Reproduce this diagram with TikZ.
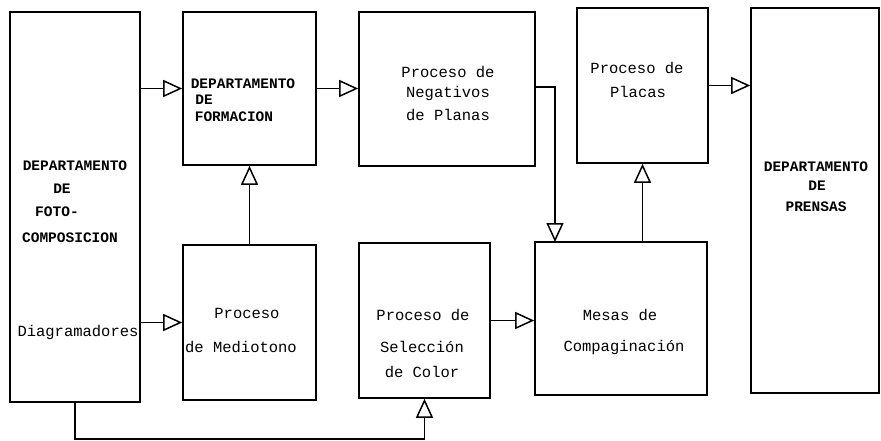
\documentclass[tikz,border=0pt]{standalone}
\usepackage{fontspec}
\setmonofont{Liberation Mono}
\usetikzlibrary{arrows.meta,calc}
\begin{document}
\begin{tikzpicture}[x=1pt,y=-1pt,
  box/.style={draw,line width=1.6pt,inner sep=0pt},
  arr/.style={line width=1.5pt,-{Triangle[open,length=19pt,width=17pt,line width=1.5pt]}},
  upper/.style={font=\ttfamily\bfseries\fontsize{14.5}{16}\selectfont,inner sep=0pt},
  txt/.style={font=\ttfamily\fontsize{15.5}{17}\selectfont,inner sep=0pt}]
\useasboundingbox (0,0) rectangle (881,440);

% blocks
\node[box,minimum width=130pt,minimum height=390pt] (A) at (75,207) {};
\node[box,minimum width=133pt,minimum height=153pt] (B) at (249.5,88.5) {};
\node[box,minimum width=176pt,minimum height=154pt] (C) at (447,89) {};
\node[box,minimum width=131pt,minimum height=155pt] (D) at (642.5,85.5) {};
\node[box,minimum width=128pt,minimum height=385pt] (E) at (815,200.5) {};
\node[box,minimum width=133pt,minimum height=155pt] (F) at (249.5,322.5) {};
\node[box,minimum width=131pt,minimum height=155pt] (G) at (424.5,320.5) {};
\node[box,minimum width=172pt,minimum height=153pt] (H) at (621,318.5) {};

% labels
\node[upper] (a1) at (75,166) {DEPARTAMENTO};
\node[upper] (a2) at (62,189) {DE};
\node[upper] (a3) at (57,212) {FOTO-};
\node[upper] (a4) at (70,238) {COMPOSICION};
\node[txt] (a5) at (78,332) {Diagramadores};

\node[upper] (b1) at (243,84) {DEPARTAMENTO};
\node[upper] (b2) at (204,100) {DE};
\node[upper] (b3) at (234,117) {FORMACION};

\node[txt] (c1) at (448,72) {Proceso de};
\node[txt] (c2) at (448,93) {Negativos};
\node[txt] (c3) at (448,115) {de Planas};

\node[txt] (d1) at (637,68) {Proceso de};
\node[txt] (d2) at (638,92) {Placas};

\node[upper] (e1) at (816,167) {DEPARTAMENTO};
\node[upper] (e2) at (817,186) {DE};
\node[upper] (e3) at (816,207) {PRENSAS};

\node[txt] (f1) at (247,313) {Proceso};
\node[txt] (f2) at (241,347) {de Mediotono};

\node[txt] (g1) at (423,315) {Proceso de};
\node[txt] (g2) at (422,347) {Selección};
\node[txt] (g3) at (422,372) {de Color};

\node[txt] (h1) at (620,315) {Mesas de};
\node[txt] (h2) at (624,347) {Compaginación};

% connectors
\coordinate (Hin) at (555,242);
\draw[arr] (A.east |- B.west) -- (B.west);
\draw[arr] (B.east) -- (C.west |- B.east);
\draw[arr] (D.east) -- (E.west |- D.east);
\draw[arr] (A.east |- F.west) -- (F.west);
\draw[arr] (F.north) -- (B.south);
\draw[arr] (G.east) -- (H.west |- G.east);
\draw[arr] (H.north -| D.south) -- (D.south);
\draw[arr] (C.east |- 0,87) -| (Hin);
\draw[arr] (A.south) -- ++(0,36) -| (G.south);
\end{tikzpicture}
\end{document}
